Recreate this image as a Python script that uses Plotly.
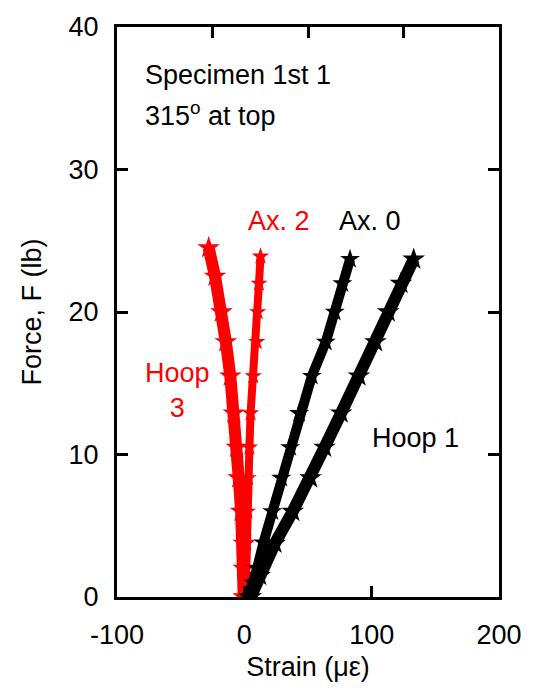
import plotly.graph_objects as go

# Data (strain in microstrain, force in lb)
ax0_strain = [3, 7, 10, 15, 22, 29, 36, 43, 53, 64, 71, 77, 83]
ax0_force = [0, 1, 2, 3.8, 6, 8.35, 10.5, 12.9, 15.5, 17.9, 20, 22, 23.7]

hoop1_strain = [5, 12, 24, 38, 52, 63, 76, 90, 103, 113, 123, 133]
hoop1_force = [0, 1.5, 3.76, 6, 8.35, 10.5, 12.9, 15.5, 17.9, 20, 22, 23.7]

ax2_strain = [1, 1.3, 1.5, 2.5, 3, 4, 4.9, 7, 9.7, 10.5, 11.5, 12.7]
ax2_force = [0, 2, 3.76, 6, 8.35, 10.5, 12.9, 15.5, 17.9, 20, 22, 23.9]

hoop3_strain = [-0.5, -0.5, -0.5, -2.5, -4.4, -6, -8.3, -11, -14.5, -18, -23, -28]
hoop3_force = [0, 2, 3.76, 6, 8.35, 10.5, 12.9, 15.5, 17.9, 20, 22.5, 24.5]

x_ticks = [-100, 0, 100, 200]
y_ticks = [0, 10, 20, 30, 40]

FONT = "Liberation Sans, Arial, sans-serif"
FS = 27

fig = go.Figure()

def band(xs, ys, color, width):
    fig.add_trace(go.Scatter(
        x=xs, y=ys, mode="lines+markers",
        line=dict(color=color, width=width),
        marker=dict(symbol="star", size=width + 5, color=color),
        showlegend=False, hoverinfo="skip"))

band(hoop3_strain, hoop3_force, "#ff0000", 12)
band(ax2_strain, ax2_force, "#ff0000", 8)
band(ax0_strain, ax0_force, "#000000", 10)
band(hoop1_strain, hoop1_force, "#000000", 12)

# dummy trace on top axis to enable it
fig.add_trace(go.Scatter(x=[None], y=[None], xaxis="x2", yaxis="y",
                         showlegend=False, hoverinfo="skip"))

fig.update_layout(
    width=534, height=698,
    margin=dict(l=117, r=31, t=22, b=101),
    plot_bgcolor="white", paper_bgcolor="white",
    font=dict(family=FONT, size=FS, color="black"),
    xaxis=dict(
        range=[-100, 200], tickvals=x_ticks, ticktext=[str(v) for v in x_ticks],
        ticks="inside", ticklen=11, tickwidth=3, tickcolor="black",
        showline=True, linewidth=3, linecolor="black", mirror=True,
        showgrid=False, zeroline=False, ticklabelstandoff=12,
        title=dict(text="Strain (με)", font=dict(size=FS), standoff=8),
        tickfont=dict(size=FS),
    ),
    xaxis2=dict(
        overlaying="x", side="top", range=[0, 4], tickvals=[1, 2, 3],
        ticks="inside", ticklen=11, tickwidth=3, tickcolor="black",
        showticklabels=False, showgrid=False, zeroline=False, showline=False,
    ),
    yaxis=dict(
        range=[0, 40], tickvals=y_ticks, ticktext=[str(v) for v in y_ticks],
        ticks="inside", ticklen=11, tickwidth=3, tickcolor="black",
        showline=True, linewidth=3, linecolor="black", mirror="ticks",
        showgrid=False, zeroline=False, ticklabelstandoff=10,
        title=dict(text="Force, F (lb)", font=dict(size=FS), standoff=20),
        tickfont=dict(size=FS),
    ),
)

def note(text, x, y, color="black", xanchor="center", align="center"):
    fig.add_annotation(text=text, x=x, y=y, xref="paper", yref="paper",
                       xanchor=xanchor, yanchor="middle", showarrow=False,
                       align=align, font=dict(family=FONT, size=FS, color=color))

def px2paper(px, py):
    return (px - 117) / (503 - 117), (597 - py) / (597 - 22)

x, y = px2paper(143, 70); note("Specimen 1st 1", x, y, xanchor="left", align="left")
x, y = px2paper(143, 110); note("315<sup>o</sup> at top", x, y, xanchor="left", align="left")
x, y = px2paper(281, 218); note("Ax. 2", x, y, color="#ff0000")
x, y = px2paper(373, 218); note("Ax. 0", x, y)
x, y = px2paper(178, 389); note("Hoop<br>3", x, y, color="#ff0000")
x, y = px2paper(419, 437); note("Hoop 1", x, y)

fig.write_html("out.html")
